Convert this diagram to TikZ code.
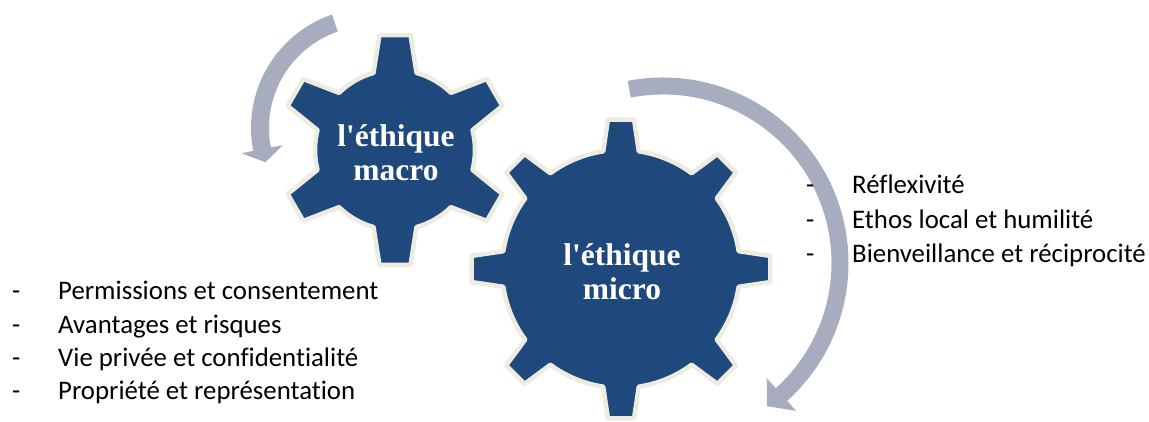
\documentclass[tikz,border=0pt]{standalone}
\usepackage{fontspec}
\setmainfont{Carlito}[Ligatures=CommonOff]
\newfontfamily\gearfont{Liberation Serif}
\usetikzlibrary{calc}

\definecolor{gearblue}{HTML}{1F497D}
\definecolor{gearrim}{HTML}{EEECE1}
\definecolor{turngray}{HTML}{A7ADBE}

\tikzset{
    gear/.style={fill=gearblue, draw=gearrim, line width=4.5, line join=round},
    geartext/.style={text=white, align=center, inner sep=0,
        font=\gearfont\bfseries\fontsize{31.5}{34}\selectfont},
    item/.style={anchor=base west, inner sep=0,
        font=\fontsize{26.8}{31}\selectfont},
    turn/.style={fill=turngray},
}

% centre, teeth, body radius, tip radius, base half-angle, tip half-angle
\newcommand\drawgear[6]{%
    \draw[gear] ($(#1)+({90-#5}:#3)$)
        \foreach \k [evaluate=\k as \ang using 90+(\k-1)*360/#2] in {1,...,#2}{
            -- ($(#1)+({\ang-#5}:#3)$) -- ($(#1)+({\ang-#6}:#4)$)
            -- ($(#1)+({\ang+#6}:#4)$) -- ($(#1)+({\ang+#5}:#3)$)
            arc[start angle=\ang+#5, end angle=\ang+360/#2-#5, radius=#3]
        } -- cycle;
}

% centre, start, head base, tip, radius, half band, half head
\newcommand\drawturn[7]{%
    \fill[turn] ($(#1)+({#2}:{#5-#6})$)
        arc[start angle=#2, end angle=#3, radius=#5-#6]
        -- ($(#1)+({#3}:{#5-#7})$) -- ($(#1)+({#4}:#5)$)
        -- ($(#1)+({#3}:{#5+#7})$) -- ($(#1)+({#3}:{#5+#6})$)
        arc[start angle=#3, end angle=#2, radius=#5+#6] -- cycle;
}

\begin{document}
\begin{tikzpicture}[x=1pt, y=1pt]
    \useasboundingbox (0, 0) rectangle (1149, 422);

    \coordinate (macro-c) at (395, 272);
    \coordinate (micro-c) at (621, 153);
    \coordinate (macro-turn) at (371, 294);
    \coordinate (micro-turn) at (663, 159);

    % turning arrows
    \drawturn{macro-turn}{109}{191}{198}{111}{9}{21}
    \drawturn{micro-turn}{101}{-48}{-54}{177}{8.5}{22}

    % gears
    \drawgear{macro-c}{6}{80}{116}{15.6}{7.7}
    \drawgear{micro-c}{8}{119}{150}{8.6}{5}

    \node[geartext] (macro) at ($(macro-c)+(1, -3)$) {l\textquotesingle éthique\\macro};
    \node[geartext] (micro) at ($(micro-c)+(1, -3)$) {l\textquotesingle éthique\\micro};

    % lists
    \foreach \txt [count=\i] in {Permissions et consentement, Avantages et risques,
        Vie privée et confidentialité, Propriété et représentation}
        \node[item] (macro-item-\i) at (12, {122 - 33.3 * (\i - 1)})
            {\makebox[46pt][l]{-}\txt};

    \foreach \txt [count=\i] in {Réflexivité, Ethos local et humilité,
        Bienveillance et réciprocité}
        \node[item] (micro-item-\i) at (806, {228 - 34.5 * (\i - 1)})
            {\makebox[46pt][l]{-}\txt};
\end{tikzpicture}
\end{document}
